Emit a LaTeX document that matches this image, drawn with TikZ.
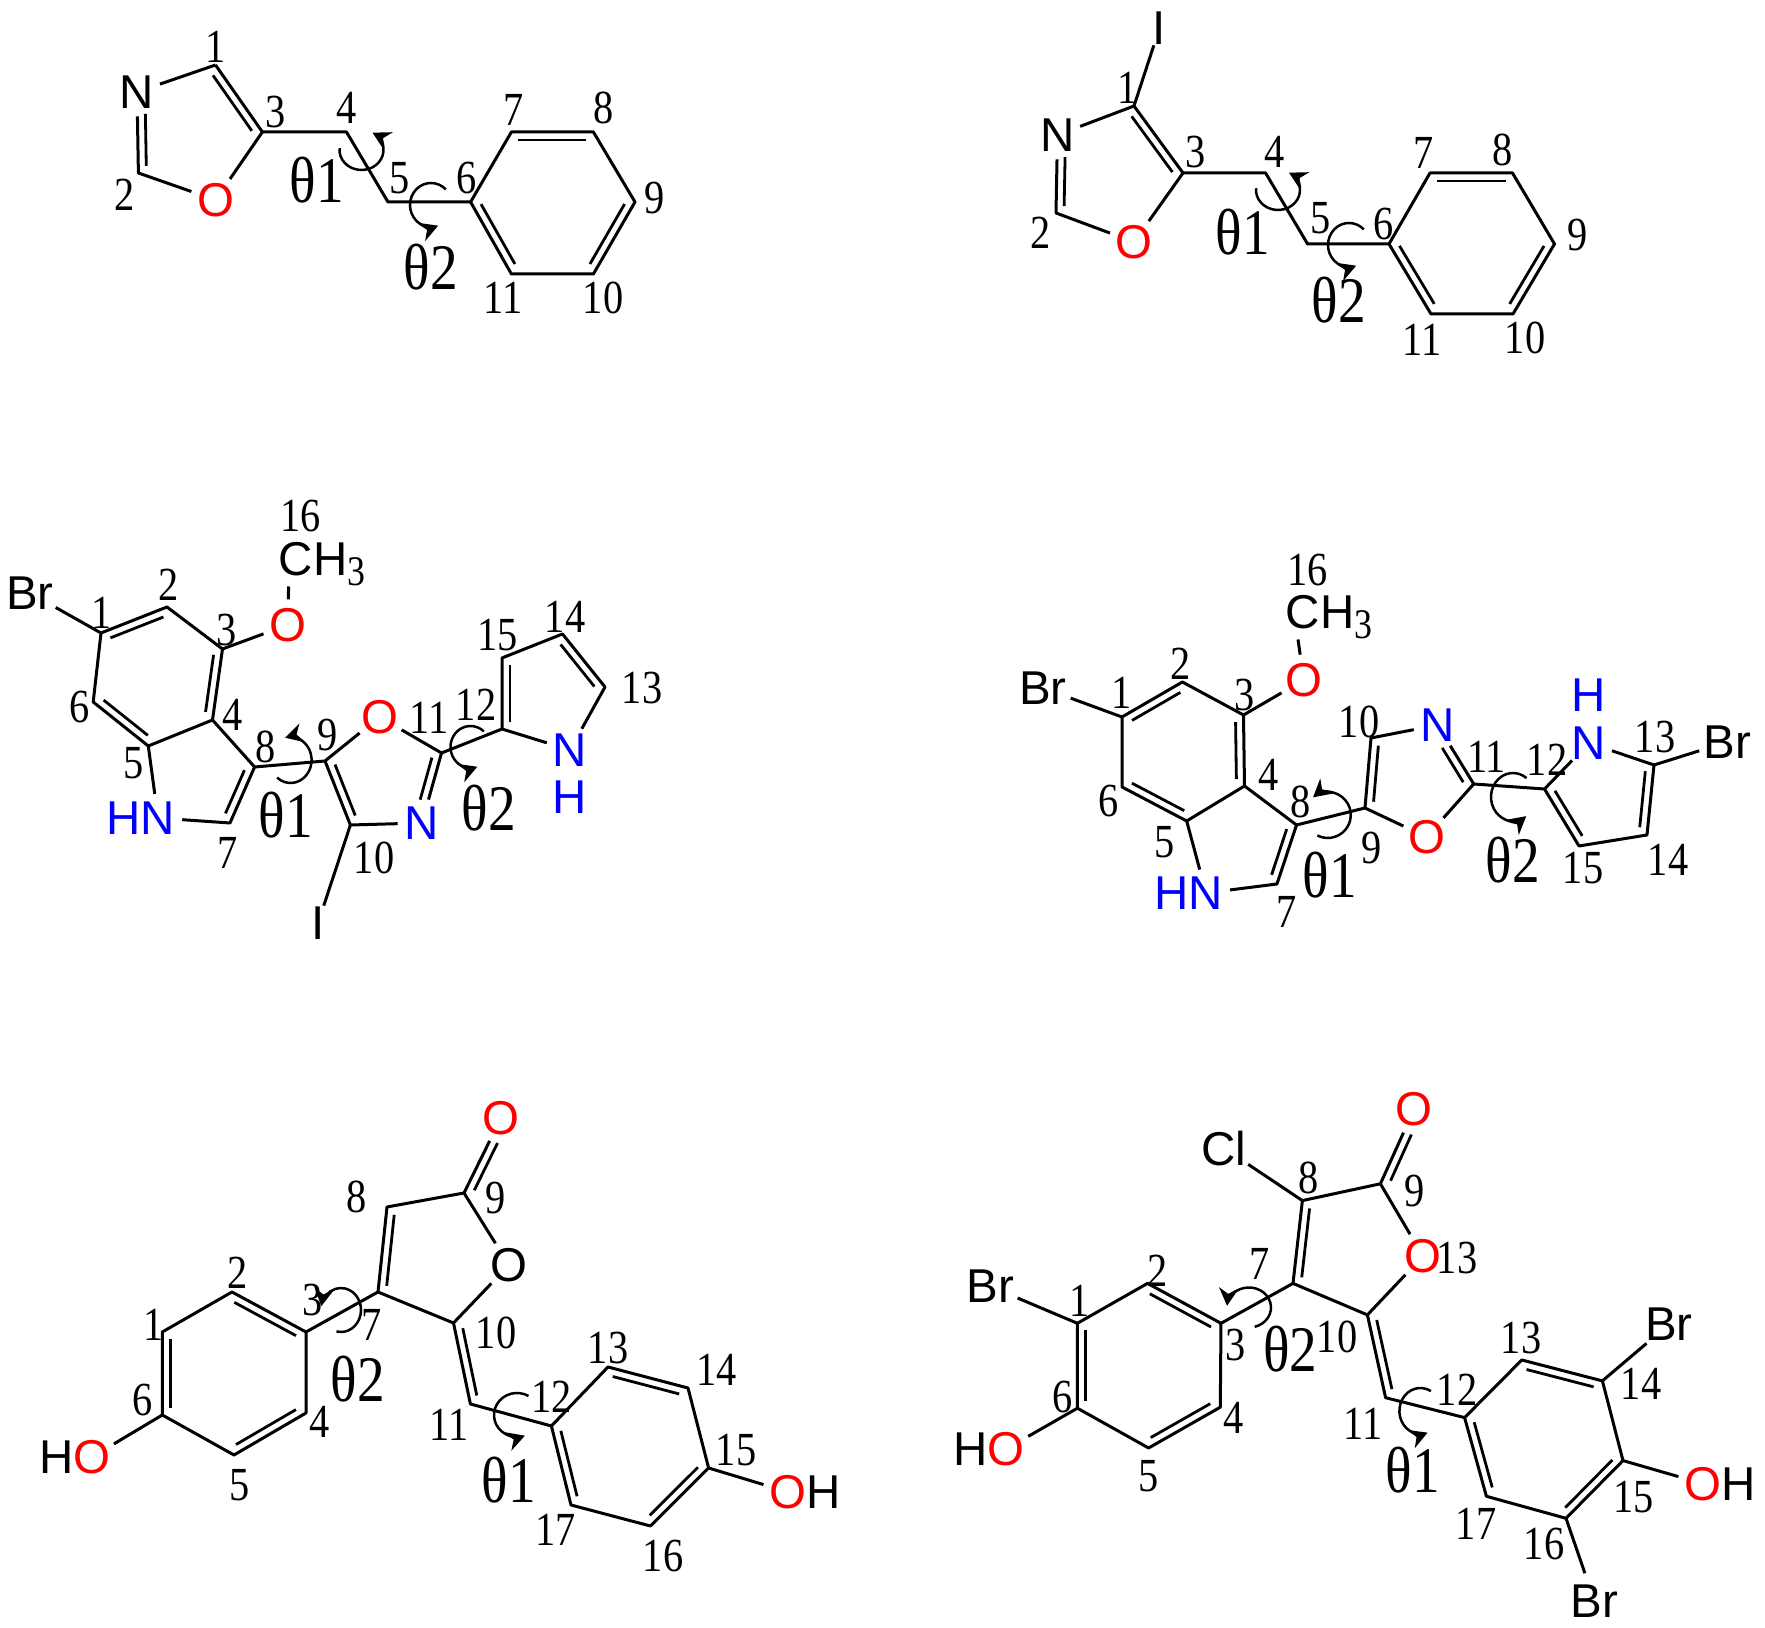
\documentclass[tikz,border=0pt]{standalone}
\usepackage{fontspec}
\usepackage{xcolor}
\usepackage{tikz}
\usetikzlibrary{positioning,calc,arrows.meta}
\newfontfamily\numfamily[FakeStretch=0.85]{Liberation Serif}
\newfontfamily\atomfamily{Liberation Sans}
\newcommand{\dblbond}[3][]{\draw[innerbond,#1] ($(#2)!0.08cm!90:(#3)$) -- ($(#3)!0.08cm!-90:(#2)$);}
\newcommand{\rotarrow}[5]{\draw[twist] ($(#1)+(#2:#4 and #5)$) arc[start angle=#2,end angle=#3,x radius=#4,y radius=#5];}
\newcommand{\methyl}{CH\raisebox{-0.1cm}{\numfamily\fontsize{12}{12}\selectfont 3}}

\begin{document}
\begin{tikzpicture}[x=0.01cm,y=-0.01cm,
    bond/.style={line width=0.03cm,line join=round},
    innerbond/.style={line width=0.028cm,shorten <=0.07cm,shorten >=0.07cm},
    twist/.style={line width=0.025cm,-{Stealth[length=5pt,width=5.5pt]}},
    num/.style={inner sep=0pt,font=\numfamily\fontsize{13.5}{14}\selectfont},
    angl/.style={inner sep=0pt,font=\numfamily\fontsize{18.5}{19}\selectfont},
    atom/.style={circle,inner sep=0pt,font=\atomfamily\fontsize{13.5}{14}\selectfont},
    oxy/.style={atom,text=red},
    nit/.style={atom,text=blue},
    pair/.style={inner sep=0pt,font=\atomfamily\fontsize{13.5}{14}\selectfont}]
    \useasboundingbox (0,0) rectangle (1765,1628);

    % top left
    \coordinate (a1) at (215.5,65);
    \node[atom] (an) at (137,92) {N};
    \coordinate (a2) at (138.4,173);
    \node[oxy] (ao) at (215.5,200) {O};
    \coordinate (a3) at (262.4,132);
    \coordinate (a4) at (346.5,132);
    \coordinate (a5) at (388,202);
    \coordinate (a6) at (470.6,202);
    \coordinate (a7) at (511.4,132);
    \coordinate (a8) at (593.4,132);
    \coordinate (a9) at (635,202);
    \coordinate (a10) at (593.4,274);
    \coordinate (a11) at (511.4,274);
    \draw[bond] (a1) -- (an) (an) -- (a2) -- (ao) -- (a3) -- (a1);
    \draw[bond] (a3) -- (a4) -- (a5) -- (a6) -- (a7) -- (a8) -- (a9) -- (a10) -- (a11) -- (a6);
    \dblbond{a3}{a1}
    \dblbond[shorten <=0.22cm]{an}{a2}
    \dblbond{a8}{a7}
    \dblbond{a6}{a11}
    \dblbond{a10}{a9}
    \rotarrow{361.5,150}{185}{-60}{22}{20}
    \rotarrow{431,205}{-45}{-290}{21}{22}
    \node[num] (la1) at (216,47) {1};
    \node[num] (la2) at (125,195) {2};
    \node[num] (la3) at (276,112) {3};
    \node[num] (la4) at (346.5,108) {4};
    \node[num] (la5) at (400,178) {5};
    \node[num] (la6) at (467,178) {6};
    \node[num] (la7) at (514,110) {7};
    \node[num] (la8) at (604,108) {8};
    \node[num] (la9) at (654.5,198) {9};
    \node[num] (la10) at (603,298) {10};
    \node[num] (la11) at (503,298) {11};
    \node[angl] (ta1) at (316.6,180) {θ1};
    \node[angl] (ta2) at (431,267) {θ2};

    % top right
    \coordinate (b1) at (1134,106);
    \node[atom] (bi) at (1159.5,28) {I};
    \node[atom] (bn) at (1057.5,135) {N};
    \coordinate (b2) at (1056,213);
    \node[oxy] (bo) at (1134,242) {O};
    \coordinate (b3) at (1183,173);
    \coordinate (b4) at (1265.6,173);
    \coordinate (b5) at (1307.6,244);
    \coordinate (b6) at (1389,244);
    \coordinate (b7) at (1430,173);
    \coordinate (b8) at (1512.5,173);
    \coordinate (b9) at (1554.5,244);
    \coordinate (b10) at (1513,314);
    \coordinate (b11) at (1431,314);
    \draw[bond] (bi) -- (b1) -- (bn) (bn) -- (b2) -- (bo) -- (b3) -- (b1);
    \draw[bond] (b3) -- (b4) -- (b5) -- (b6) -- (b7) -- (b8) -- (b9) -- (b10) -- (b11) -- (b6);
    \dblbond{b3}{b1}
    \dblbond[shorten <=0.22cm]{bn}{b2}
    \dblbond{b8}{b7}
    \dblbond{b6}{b11}
    \dblbond{b10}{b9}
    \rotarrow{1278,190}{185}{-60}{22}{20}
    \rotarrow{1349,245}{-45}{-290}{21}{22}
    \node[num] (lb1) at (1128,88) {1};
    \node[num] (lb2) at (1041,233) {2};
    \node[num] (lb3) at (1195.4,152) {3};
    \node[num] (lb4) at (1274.6,152) {4};
    \node[num] (lb5) at (1320.7,218) {5};
    \node[num] (lb6) at (1384,224) {6};
    \node[num] (lb7) at (1424,153) {7};
    \node[num] (lb8) at (1503,150) {8};
    \node[num] (lb9) at (1578,235) {9};
    \node[num] (lb10) at (1525,338) {10};
    \node[num] (lb11) at (1422,340) {11};
    \node[angl] (tb1) at (1243,232) {θ1};
    \node[angl] (tb2) at (1339,300) {θ2};

    % middle left
    \coordinate (c1) at (101,633);
    \node[atom] (cbr) at (30,593) {Br};
    \coordinate (c2) at (167,607);
    \coordinate (c3) at (222.5,649);
    \node[oxy] (co) at (287.5,625) {O};
    \node[pair] (cme) at (322,564) {\methyl};
    \coordinate (c4) at (212.5,720);
    \coordinate (c5) at (148.3,746);
    \coordinate (c6) at (93.2,702);
    \node[nit] (cn) at (158,818) {N};
    \node[pair,text=blue,left=-0.08cm of cn] (chn) {H};
    \coordinate (c7) at (230,823);
    \coordinate (c8) at (254.6,767);
    \coordinate (c9) at (325,761);
    \node[oxy] (cor) at (379.5,717) {O};
    \coordinate (c11) at (441.5,753);
    \node[nit] (cnr) at (422,823) {N};
    \coordinate (c10) at (350.4,825);
    \node[atom] (ci) at (318,923) {I};
    \coordinate (c12) at (502,729);
    \coordinate (c15) at (502,658);
    \coordinate (c14) at (562.5,634);
    \coordinate (c13) at (605,687);
    \node[nit] (cnh) at (570,750) {N};
    \node[pair,text=blue,below=0.06cm of cnh] (chh) {H};
    \draw[bond] (cbr) -- (c1) -- (c2) -- (c3) -- (c4) -- (c5) -- (c6) -- (c1);
    \draw[bond] (c3) -- (co) -- (cme.214);
    \draw[bond] (c5) -- (cn) -- (c7) -- (c8) -- (c4);
    \draw[bond] (c8) -- (c9) -- (cor) -- (c11) -- (cnr) -- (c10) -- (c9);
    \draw[bond] (c10) -- (ci);
    \draw[bond] (c11) -- (c12) -- (c15) -- (c14) -- (c13) -- (cnh) -- (c12);
    \dblbond{c2}{c1}
    \dblbond{c6}{c5}
    \dblbond{c4}{c3}
    \dblbond{c7}{c8}
    \dblbond{c9}{c10}
    \dblbond[shorten <=0.22cm]{cnr}{c11}
    \dblbond{c13}{c14}
    \dblbond{c15}{c12}
    \rotarrow{290.6,760}{130}{-105}{21}{23}
    \rotarrow{470.5,747}{-48}{-290}{20}{21}
    \node[num] (lc1) at (102,613) {1};
    \node[num] (lc2) at (169,585) {2};
    \node[num] (lc3) at (227,630) {3};
    \node[num] (lc4) at (233,715) {4};
    \node[num] (lc5) at (133.6,763) {5};
    \node[num] (lc6) at (79.4,707) {6};
    \node[num] (lc7) at (227.7,853) {7};
    \node[num] (lc8) at (265.4,747) {8};
    \node[num] (lc9) at (328,735) {9};
    \node[num] (lc10) at (374,858) {10};
    \node[num] (lc11) at (429,718) {11};
    \node[num] (lc12) at (476,705) {12};
    \node[num] (lc13) at (642,688) {13};
    \node[num] (lc14) at (565,617) {14};
    \node[num] (lc15) at (497.5,635) {15};
    \node[num] (lc16) at (300.5,516) {16};
    \node[angl] (tc1) at (286,815) {θ1};
    \node[angl] (tc2) at (489,808) {θ2};

    % middle right
    \coordinate (d1) at (1122,717);
    \node[atom] (dbr) at (1043,688) {Br};
    \coordinate (d2) at (1182.4,682);
    \coordinate (d3) at (1243.5,715);
    \node[oxy] (do) at (1303.7,680) {O};
    \node[pair] (dme) at (1329,617) {\methyl};
    \coordinate (d4) at (1244.5,786);
    \coordinate (d5) at (1186.7,821);
    \coordinate (d6) at (1122,787);
    \node[nit] (dn) at (1206,893) {N};
    \node[pair,text=blue,left=-0.08cm of dn] (dhn) {H};
    \coordinate (d7) at (1277,884);
    \coordinate (d8) at (1296.5,825);
    \coordinate (d9) at (1365,808);
    \node[oxy] (dor) at (1426.5,837) {O};
    \coordinate (d11) at (1473.7,784);
    \node[nit] (dnr) at (1437.6,725) {N};
    \coordinate (d10) at (1371,738);
    \coordinate (d12) at (1544.5,789);
    \node[nit] (dnh) at (1589,743) {N};
    \node[pair,text=blue,above=0.06cm of dnh] (dhh) {H};
    \coordinate (d13) at (1654,765);
    \node[atom] (dbb) at (1727.4,742) {Br};
    \coordinate (d14) at (1647,835);
    \coordinate (d15) at (1579,846);
    \draw[bond] (dbr) -- (d1) -- (d2) -- (d3) -- (d4) -- (d5) -- (d6) -- (d1);
    \draw[bond] (d3) -- (do) -- (dme.216);
    \draw[bond] (d5) -- (dn) -- (d7) -- (d8) -- (d4);
    \draw[bond] (d8) -- (d9) -- (dor) -- (d11) -- (dnr) -- (d10) -- (d9);
    \draw[bond] (d11) -- (d12) -- (dnh) -- (d13) -- (d14) -- (d15) -- (d12);
    \draw[bond] (d13) -- (dbb);
    \dblbond{d2}{d1}
    \dblbond{d6}{d5}
    \dblbond{d4}{d3}
    \dblbond{d7}{d8}
    \dblbond{d10}{d9}
    \dblbond[shorten >=0.22cm]{d11}{dnr}
    \dblbond{d12}{d15}
    \dblbond{d14}{d13}
    \rotarrow{1327.8,815}{117}{-130}{23}{23}
    \rotarrow{1513,797}{-52}{-307}{22}{24}
    \node[num] (ld1) at (1122,693) {1};
    \node[num] (ld2) at (1181,664) {2};
    \node[num] (ld3) at (1244.5,695) {3};
    \node[num] (ld4) at (1268.6,775) {4};
    \node[num] (ld5) at (1165,842) {5};
    \node[num] (ld6) at (1108.7,801) {6};
    \node[num] (ld7) at (1287,912) {7};
    \node[num] (ld8) at (1301,802) {8};
    \node[num] (ld9) at (1372,848) {9};
    \node[num] (ld10) at (1359,722) {10};
    \node[num] (ld11) at (1486.7,757) {11};
    \node[num] (ld12) at (1547,760) {12};
    \node[num] (ld13) at (1655,737) {13};
    \node[num] (ld14) at (1668,860) {14};
    \node[num] (ld15) at (1583,868) {15};
    \node[num] (ld16) at (1307.6,570) {16};
    \node[angl] (td1) at (1330,875) {θ1};
    \node[angl] (td2) at (1513,860) {θ2};

    % bottom left
    \node[oxy] (eoc) at (501,1118) {O};
    \coordinate (e9) at (464,1193);
    \coordinate (e8) at (387,1207);
    \coordinate (e7) at (378,1292);
    \node[atom] (eor) at (509,1265) {O};
    \coordinate (e10) at (453.5,1323);
    \coordinate (e3) at (306,1332);
    \coordinate (e2) at (232,1292);
    \coordinate (e1) at (162.3,1332);
    \coordinate (e6) at (162.3,1415);
    \coordinate (e5) at (234,1455);
    \coordinate (e4) at (306,1413);
    \node[oxy] (eol) at (92,1457) {O};
    \node[pair,left=-0.08cm of eol] (ehl) {H};
    \coordinate (e11) at (470.4,1404);
    \coordinate (e12) at (551.4,1426);
    \coordinate (e13) at (608,1367);
    \coordinate (e14) at (688,1388);
    \coordinate (e15) at (708.6,1468);
    \coordinate (e16) at (650.4,1526);
    \coordinate (e17) at (571,1505);
    \node[oxy] (eob) at (788,1492) {O};
    \node[pair,right=-0.08cm of eob] (ehb) {H};
    \draw[bond] (eoc) -- (e9) -- (e8) -- (e7) -- (e10) -- (eor) -- (e9);
    \draw[bond] (e7) -- (e3) -- (e2) -- (e1) -- (e6) -- (e5) -- (e4) -- (e3);
    \draw[bond] (e6) -- (eol);
    \draw[bond] (e10) -- (e11) -- (e12) -- (e13) -- (e14) -- (e15) -- (e16) -- (e17) -- (e12);
    \draw[bond] (e15) -- (eob);
    \dblbond[shorten <=0.24cm]{eoc}{e9}
    \dblbond{e8}{e7}
    \dblbond{e10}{e11}
    \dblbond{e1}{e6}
    \dblbond{e5}{e4}
    \dblbond{e3}{e2}
    \dblbond{e12}{e17}
    \dblbond{e16}{e15}
    \dblbond{e14}{e13}
    \rotarrow{341,1310}{103}{-170}{20}{22}
    \rotarrow{517,1415}{-60}{-290}{23}{22}
    \node[num] (le1) at (153.3,1325) {1};
    \node[num] (le2) at (237.5,1273) {2};
    \node[num] (le3) at (313,1300) {3};
    \node[num] (le4) at (319.5,1422) {4};
    \node[num] (le5) at (240,1485) {5};
    \node[num] (le6) at (142.7,1400) {6};
    \node[num] (le7) at (371.4,1325) {7};
    \node[num] (le8) at (356.6,1197) {8};
    \node[num] (le9) at (496,1198) {9};
    \node[num] (le10) at (496,1333) {10};
    \node[num] (le11) at (449,1425) {11};
    \node[num] (le12) at (551.4,1397) {12};
    \node[num] (le13) at (608,1348) {13};
    \node[num] (le14) at (716.5,1370) {14};
    \node[num] (le15) at (736,1450) {15};
    \node[num] (le16) at (663,1556) {16};
    \node[num] (le17) at (555.6,1530) {17};
    \node[angl] (te1) at (509,1480) {θ1};
    \node[angl] (te2) at (358,1379) {θ2};

    % bottom right
    \node[oxy] (foc) at (1414,1109.4) {O};
    \coordinate (f9) at (1380.4,1183.8);
    \coordinate (f8) at (1302.4,1200.6);
    \node[atom] (fcl) at (1224,1148.2) {Cl};
    \coordinate (f7) at (1293,1283.4);
    \node[oxy] (for) at (1423,1256.2) {O};
    \coordinate (f10) at (1367.4,1314.9);
    \coordinate (f3) at (1221,1323.3);
    \coordinate (f2) at (1147.5,1283.4);
    \coordinate (f1) at (1077.4,1323.3);
    \node[atom] (fbr) at (990.5,1286.6) {Br};
    \coordinate (f6) at (1077.4,1408.2);
    \coordinate (f5) at (1148.6,1448);
    \coordinate (f4) at (1220.3,1407.2);
    \node[oxy] (fol) at (1006,1449.1) {O};
    \node[pair,left=-0.08cm of fol] (fhl) {H};
    \coordinate (f11) at (1385.6,1397.7);
    \coordinate (f12) at (1464.6,1417.6);
    \coordinate (f13) at (1521.8,1360);
    \coordinate (f14) at (1602.4,1380.9);
    \node[atom] (fbt) at (1669,1324.3) {Br};
    \coordinate (f15) at (1623,1460.6);
    \node[oxy] (fob) at (1703,1483.7) {O};
    \node[pair,right=-0.08cm of fob] (fhb) {H};
    \coordinate (f16) at (1566,1518.3);
    \node[atom] (fbb) at (1594.5,1601.1) {Br};
    \coordinate (f17) at (1486.4,1496.3);
    \draw[bond] (foc) -- (f9) -- (f8) -- (f7) -- (f10) -- (for) -- (f9);
    \draw[bond] (fcl) -- (f8);
    \draw[bond] (f7) -- (f3) -- (f2) -- (f1) -- (f6) -- (f5) -- (f4) -- (f3);
    \draw[bond] (fbr) -- (f1) (f6) -- (fol);
    \draw[bond] (f10) -- (f11) -- (f12) -- (f13) -- (f14) -- (f15) -- (f16) -- (f17) -- (f12);
    \draw[bond] (f14) -- (fbt) (f15) -- (fob) (f16) -- (fbb);
    \dblbond[shorten <=0.24cm]{foc}{f9}
    \dblbond{f8}{f7}
    \dblbond{f10}{f11}
    \dblbond{f1}{f6}
    \dblbond{f5}{f4}
    \dblbond{f3}{f2}
    \dblbond{f12}{f17}
    \dblbond{f16}{f15}
    \dblbond{f14}{f13}
    \rotarrow{1249,1307.5}{75}{-175}{22}{20}
    \rotarrow{1420.4,1411}{-60}{-290}{21}{23}
    \node[num] (lf1) at (1080,1301.3) {1};
    \node[num] (lf2) at (1158,1270.8) {2};
    \node[num] (lf3) at (1236,1345.3) {3};
    \node[num] (lf4) at (1234,1417.6) {4};
    \node[num] (lf5) at (1148.6,1476.4) {5};
    \node[num] (lf6) at (1063,1396.7) {6};
    \node[num] (lf7) at (1260,1263.5) {7};
    \node[num] (lf8) at (1308.7,1177.5) {8};
    \node[num] (lf9) at (1415,1191.2) {9};
    \node[num] (lf10) at (1337,1336.9) {10};
    \node[num] (lf11) at (1363,1423.9) {11};
    \node[num] (lf12) at (1457,1389.3) {12};
    \node[num] (lf13) at (1521,1338) {13};
    \node[num] (lf14) at (1641,1384.1) {14};
    \node[num] (lf15) at (1633.5,1497.3) {15};
    \node[num] (lf16) at (1544,1544.5) {16};
    \node[num] (lf17) at (1476,1523.6) {17};
    \node[num] (lf18) at (1457,1258.3) {13};
    \node[angl] (tf1) at (1412.6,1470) {θ1};
    \node[angl] (tf2) at (1290.5,1349.5) {θ2};
\end{tikzpicture}
\end{document}
